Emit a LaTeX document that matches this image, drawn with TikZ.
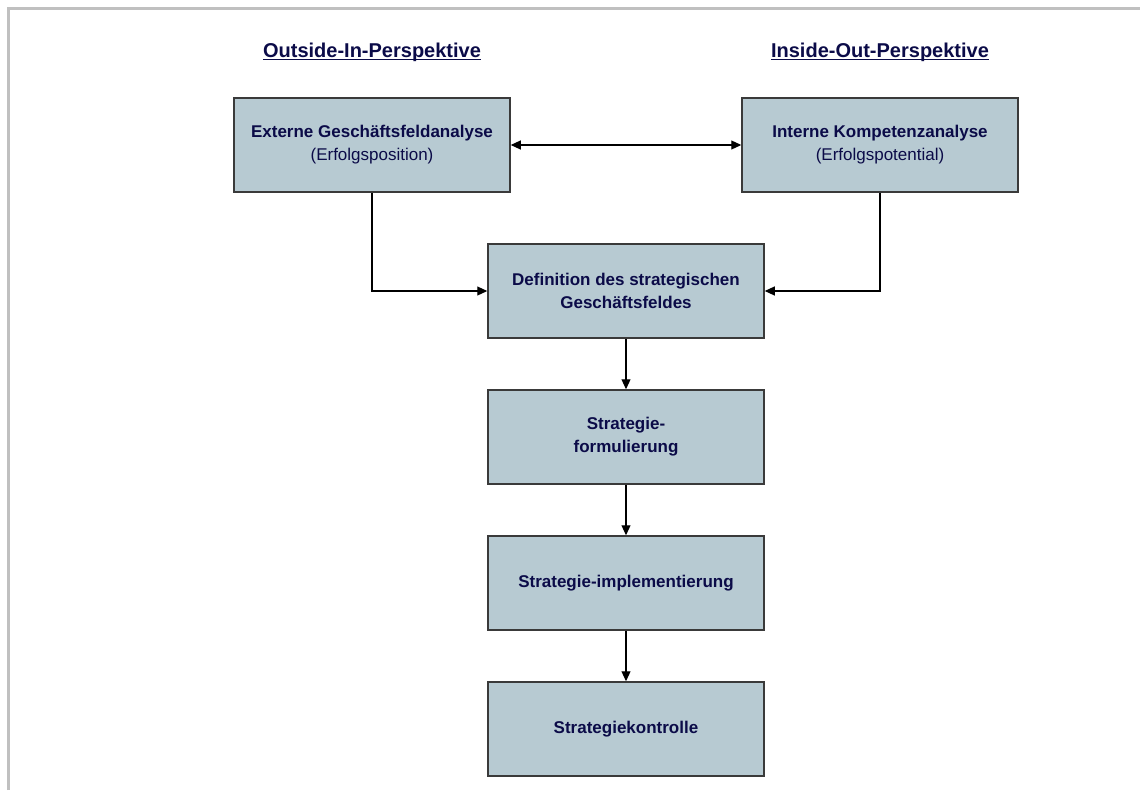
\documentclass[tikz,border=0pt]{standalone}
\usepackage{fontspec}
\setmainfont{Liberation Sans}
\usetikzlibrary{arrows.meta}
\definecolor{boxfill}{HTML}{B7CAD2}
\definecolor{boxline}{HTML}{3A3A3A}
\definecolor{navy}{HTML}{0B0B48}
\definecolor{framegray}{HTML}{C0C0C0}
\tikzset{
  stagebox/.style={draw=boxline, line width=1.5pt, fill=boxfill,
    minimum width=276pt, minimum height=94pt, inner sep=0pt,
    align=center, text=navy, font=\fontsize{17}{23}\selectfont\bfseries},
  heading/.style={inner sep=0pt, anchor=base, text=navy,
    font=\fontsize{20}{24}\selectfont\bfseries},
  conn/.style={draw=black, line width=1.1pt},
  tip/.style={-{Triangle[length=10pt,width=9pt]}},
  bothtips/.style={{Triangle[length=10pt,width=9pt]}-{Triangle[length=10pt,width=9pt]}}
}
\begin{document}
\begin{tikzpicture}[x=1pt,y=-1pt]
  \useasboundingbox (0,0) rectangle (1140,790);
  \fill[white] (0,0) rectangle (1140,790);
  % page frame: top and left edges only
  \draw[framegray, line width=3pt] (8.5,790) -- (8.5,8.5) -- (1140,8.5);

  % column headings
  \node[heading] (hout) at (372,57) {Outside-In-Perspektive};
  \node[heading] (hin)  at (880,57) {Inside-Out-Perspektive};
  \draw[navy, line width=1.6pt] ([yshift=-2.5pt]hout.base west) -- ([yshift=-2.5pt]hout.base east);
  \draw[navy, line width=1.6pt] ([yshift=-2.5pt]hin.base west) -- ([yshift=-2.5pt]hin.base east);

  % process boxes
  \node[stagebox] (ext)  at (372,145) {Externe Geschäftsfeldanalyse\\\mdseries(Erfolgsposition)};
  \node[stagebox] (int)  at (880,145) {Interne Kompetenzanalyse\\\mdseries(Erfolgspotential)};
  \node[stagebox] (def)  at (626,291) {Definition des strategischen\\Geschäftsfeldes};
  \node[stagebox] (form) at (626,437) {Strategie-\\formulierung};
  \node[stagebox] (impl) at (626,583) {Strategie-implementierung};
  \node[stagebox] (ctrl) at (626,729) {Strategiekontrolle};

  % connectors
  \draw[conn, bothtips] (ext.east) -- (int.west);
  \draw[conn, tip] (ext.south) |- (def.west);
  \draw[conn, tip] (int.south) |- (def.east);
  \draw[conn, tip] (def.south) -- (form.north);
  \draw[conn, tip] (form.south) -- (impl.north);
  \draw[conn, tip] (impl.south) -- (ctrl.north);
\end{tikzpicture}
\end{document}
